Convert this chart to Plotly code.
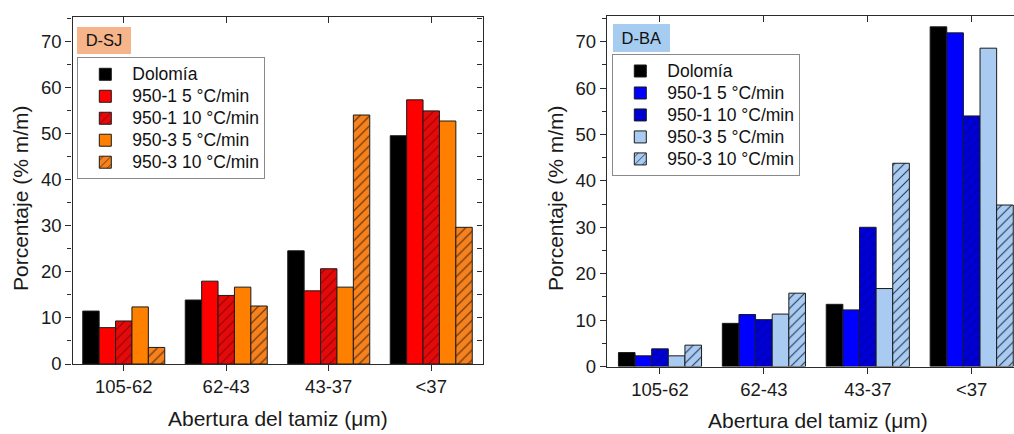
import plotly.graph_objects as go

# ---------------- data ----------------
categories = ["105-62", "62-43", "43-37", "<37"]
series_names = ["Dolomía", "950-1 5 °C/min", "950-1 10 °C/min",
                "950-3 5 °C/min", "950-3 10 °C/min"]

# D-SJ panel (% m/m)
dsj_dolomia = [11.5, 13.9, 24.6, 49.6]
dsj_950_1_5 = [7.9, 18.0, 15.9, 57.4]
dsj_950_1_10 = [9.35, 14.9, 20.7, 55.0]
dsj_950_3_5 = [12.4, 16.7, 16.7, 52.8]
dsj_950_3_10 = [3.6, 12.6, 54.1, 29.7]

# D-BA panel (% m/m)
dba_dolomia = [3.0, 9.3, 13.4, 73.2]
dba_950_1_5 = [2.3, 11.2, 12.2, 71.9]
dba_950_1_10 = [3.8, 10.1, 30.0, 54.0]
dba_950_3_5 = [2.3, 11.3, 16.8, 68.6]
dba_950_3_10 = [4.6, 15.8, 43.8, 34.8]

# ---------------- styles ----------------
FONT = "Liberation Sans, Arial, sans-serif"
AX = "#2b2b2b"
LEGEND_TEXT_PX = 17.5

def solid(c):
    return dict(color=c, pattern=dict(shape=""))

def hatched(bg, fg):
    return dict(color=bg, pattern=dict(shape="/", bgcolor=bg, fgcolor=fg,
                                       size=7, solidity=0.16, fillmode="replace"))

dsj_styles = [solid("#000000"), solid("#FF0000"), hatched("#E20A0A", "#9A0000"),
              solid("#FF8000"), hatched("#F5821F", "#5A2A00")]
dba_styles = [solid("#000000"), solid("#0000FF"), hatched("#0000D6", "#0000A0"),
              solid("#A9CBF1"), hatched("#A9CBF1", "#2A3A55")]

dsj_values = [dsj_dolomia, dsj_950_1_5, dsj_950_1_10, dsj_950_3_5, dsj_950_3_10]
dba_values = [dba_dolomia, dba_950_1_5, dba_950_1_10, dba_950_3_5, dba_950_3_10]

def legend_label(name):
    return f"<span style='font-size:{LEGEND_TEXT_PX}px'>{name}</span>"

fig = go.Figure()
for name, vals, sty in zip(series_names, dsj_values, dsj_styles):
    fig.add_trace(go.Bar(x=categories, y=vals, name=legend_label(name),
                         xaxis="x", yaxis="y", legend="legend",
                         hovertemplate=name + ": %{y}<extra></extra>",
                         marker=dict(color=sty["color"], pattern=sty["pattern"],
                                     line=dict(color="#1a1a1a", width=1))))
for name, vals, sty in zip(series_names, dba_values, dba_styles):
    fig.add_trace(go.Bar(x=categories, y=vals, name=legend_label(name),
                         xaxis="x2", yaxis="y2", legend="legend2",
                         hovertemplate=name + ": %{y}<extra></extra>",
                         marker=dict(color=sty["color"], pattern=sty["pattern"],
                                     line=dict(color="#1a1a1a", width=1))))

# empty traces so the frame axes (top / right, inward ticks) get drawn
fig.add_trace(go.Scatter(x=[], y=[], xaxis="x3", yaxis="y", showlegend=False, hoverinfo="skip"))
fig.add_trace(go.Scatter(x=[], y=[], xaxis="x", yaxis="y3", showlegend=False, hoverinfo="skip"))
fig.add_trace(go.Scatter(x=[], y=[], xaxis="x4", yaxis="y2", showlegend=False, hoverinfo="skip"))

# ---------------- geometry (paper fractions) ----------------
ML, MR, MT, MB = 72, 0, 15, 67
W, H = 1014, 434
PW, PH = W - ML - MR, H - MT - MB

def px(x):
    return (x - ML) / PW

def py(y):
    return (H - MB - y) / PH

x1_dom = [px(72.5), px(482.5)]
x2_dom = [px(607), 1.0]
y1_dom = [py(364), py(17)]
y2_dom = [py(366.5), py(15.7)]
x1_rng = [-0.5, 3.5]
x2_rng = [-0.51, 3.407]
y1_rng = [0, 75.4]
y2_rng = [0, 75.6]

tickfont = dict(family=FONT, size=18.5, color="#1a1a1a")

def xbase(dom, rng, anchor):
    return dict(domain=dom, range=rng, anchor=anchor, type="category",
                showline=True, linecolor=AX, linewidth=1.3,
                ticks="outside", ticklen=6, tickwidth=1.2, tickcolor=AX,
                tickfont=tickfont, showgrid=False, zeroline=False, fixedrange=True)

def ybase(dom, rng, anchor):
    return dict(domain=dom, range=rng, anchor=anchor,
                showline=True, linecolor=AX, linewidth=1.3,
                ticks="outside", ticklen=6, tickwidth=1.2, tickcolor=AX,
                dtick=10, tick0=0, tickfont=tickfont,
                minor=dict(ticks="outside", dtick=5, ticklen=4, tickwidth=1.1, tickcolor=AX),
                showgrid=False, zeroline=False, fixedrange=True)

def xtop(over, rng, anchor):
    return dict(overlaying=over, side="top", anchor=anchor, range=rng, type="linear",
                tickvals=[0, 1, 2, 3], showticklabels=False,
                showline=True, linecolor=AX, linewidth=1.3,
                ticks="inside", ticklen=6, tickwidth=1.2, tickcolor=AX,
                showgrid=False, zeroline=False, fixedrange=True)

def yright(over, rng, anchor):
    return dict(overlaying=over, side="right", anchor=anchor, range=rng,
                dtick=5, tick0=0, showticklabels=False,
                showline=True, linecolor=AX, linewidth=1.3,
                ticks="inside", ticklen=5, tickwidth=1.2, tickcolor=AX,
                showgrid=False, zeroline=False, fixedrange=True)

legend_common = dict(bgcolor="white", bordercolor="#8a8a8a", borderwidth=1,
                     font=dict(family=FONT, size=14.6, color="#111"),
                     xanchor="left", yanchor="top", itemwidth=44,
                     tracegroupgap=0, traceorder="normal")

title_font = dict(family=FONT, size=21, color="#1a1a1a")
label_font = dict(family=FONT, size=16.5, color="#111")

annotations = [
    dict(text="Abertura del tamiz (μm)", xref="paper", yref="paper",
         x=px(278), y=py(418), xanchor="center", yanchor="middle",
         showarrow=False, font=title_font),
    dict(text="Abertura del tamiz (μm)", xref="paper", yref="paper",
         x=px(818), y=py(420), xanchor="center", yanchor="middle",
         showarrow=False, font=title_font),
    dict(text="Porcentaje (% m/m)", xref="paper", yref="paper",
         x=px(20), y=py(198), xanchor="center", yanchor="middle", textangle=-90,
         showarrow=False, font=title_font),
    dict(text="Porcentaje (% m/m)", xref="paper", yref="paper",
         x=px(555), y=py(198), xanchor="center", yanchor="middle", textangle=-90,
         showarrow=False, font=title_font),
    dict(text="D-SJ", xref="paper", yref="paper", x=px(77), y=py(26.7),
         xanchor="left", yanchor="top", showarrow=False, bgcolor="#F5B48A",
         width=50, height=22.6, borderpad=2, borderwidth=0, font=label_font),
    dict(text="D-BA", xref="paper", yref="paper", x=px(613), y=py(24),
         xanchor="left", yanchor="top", showarrow=False, bgcolor="#A6CCF0",
         width=52.5, height=24, borderpad=2, borderwidth=0, font=label_font),
]

fig.update_layout(
    width=W, height=H,
    margin=dict(l=ML, r=MR, t=MT, b=MB, pad=0),
    paper_bgcolor="white", plot_bgcolor="white",
    barmode="group", bargap=0.2, bargroupgap=0,
    font=dict(family=FONT, color="#1a1a1a"),
    xaxis=xbase(x1_dom, x1_rng, "y"),
    yaxis=ybase(y1_dom, y1_rng, "x"),
    xaxis2=xbase(x2_dom, x2_rng, "y2"),
    yaxis2=ybase(y2_dom, y2_rng, "x2"),
    xaxis3=xtop("x", x1_rng, "y"),
    yaxis3=yright("y", y1_rng, "x"),
    xaxis4=xtop("x2", x2_rng, "y2"),
    legend=dict(x=px(77.3), y=py(57.3), **legend_common),
    legend2=dict(x=px(612.3), y=py(54), **legend_common),
    annotations=annotations,
    showlegend=True,
)

fig.write_html("out.html", config={"displayModeBar": False},
               post_script="document.body.style.margin='0';")
